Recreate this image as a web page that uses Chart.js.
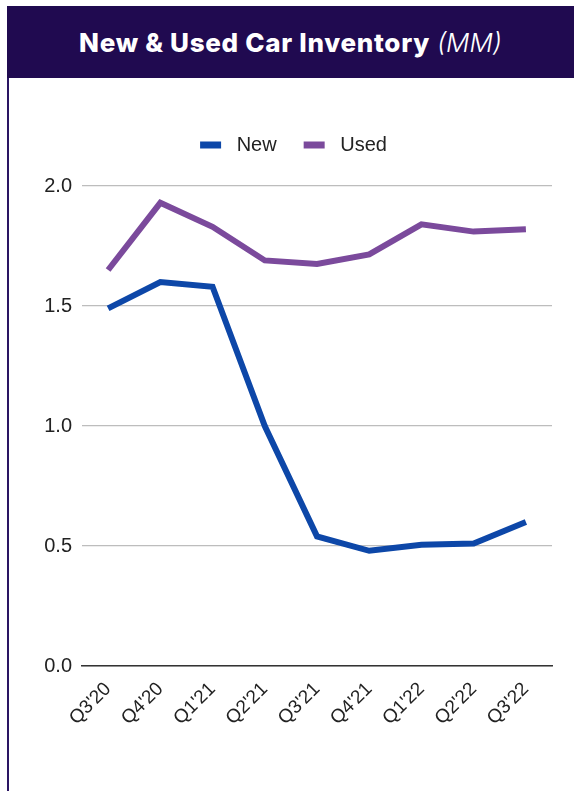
<!DOCTYPE html>
<html>
<head>
<meta charset="utf-8">
<script src="https://cdn.jsdelivr.net/npm/chart.js@4.4.1/dist/chart.umd.min.js"></script>
<style>
  html, body { margin: 0; padding: 0; background: #ffffff; }
  body { width: 574px; height: 791px; position: relative; overflow: hidden; }
  #header {
    position: absolute; left: 7px; top: 6px; width: 567px; height: 72px;
    background: #200a50; color: #ffffff;
    font-family: Inter, "Noto Sans", sans-serif; font-weight: 800; font-size: 26px;
    letter-spacing: 0.7px;
    display: flex; align-items: center; justify-content: center;
  }
  #header em { font-weight: 300; font-style: italic; margin-left: 7px; letter-spacing: 0; }
  #frame {
    position: absolute; left: 7px; top: 78px; width: 2px; height: 713px;
    background: #2a1563;
  }
  #wrap { position: absolute; left: 9px; top: 78px; width: 565px; height: 713px; }
</style>
</head>
<body>
<div id="header">New &amp; Used Car Inventory<em>(MM)</em></div>
<div id="frame"></div>
<div id="wrap"><canvas id="c"></canvas></div>
<script>
const quarters = ["Q3'20", "Q4'20", "Q1'21", "Q2'21", "Q3'21", "Q4'21", "Q1'22", "Q2'22", "Q3'22"];
const newInventory  = [1.49, 1.60, 1.58, 1.00, 0.54, 0.48, 0.505, 0.51, 0.60];
const usedInventory = [1.65, 1.93, 1.83, 1.69, 1.675, 1.715, 1.84, 1.81, 1.82];
const yTicks = [0, 0.5, 1.0, 1.5, 2.0];

const labelFont = '"Liberation Sans", Arial, sans-serif';

// Legend: fixed gap above the plot, row centred on the whole card.
const legendPlacement = {
  id: 'legendPlacement',
  afterInit(chart) {
    const lg = chart.legend;
    const fit = lg.fit.bind(lg);
    lg.fit = function () { fit(); this.height = 78; };
  },
  afterLayout(chart) {
    chart.legend.left += 26;
  }
};

new Chart(document.getElementById('c'), {
  type: 'line',
  data: {
    labels: quarters,
    datasets: [
      { label: 'New', data: newInventory, borderColor: '#0d47a8', backgroundColor: '#0d47a8',
        borderWidth: 6, pointRadius: 0, tension: 0, borderJoinStyle: 'miter' },
      { label: 'Used', data: usedInventory, borderColor: '#7b4a9c', backgroundColor: '#7b4a9c',
        borderWidth: 6, pointRadius: 0, tension: 0, borderJoinStyle: 'miter' }
    ]
  },
  options: {
    responsive: true,
    maintainAspectRatio: false,
    animation: false,
    layout: { padding: { top: 30, right: 22, bottom: 0, left: 0 } },
    plugins: {
      legend: {
        position: 'top',
        labels: {
          boxWidth: 21, boxHeight: 7, padding: 27,
          color: '#222222',
          font: { family: labelFont, size: 20 },
          generateLabels(chart) {
            const items = Chart.defaults.plugins.legend.labels.generateLabels(chart);
            items.forEach(it => { it.text = ' ' + it.text; it.lineWidth = 0; });
            return items;
          }
        }
      },
      tooltip: { enabled: false }
    },
    scales: {
      x: {
        offset: true,
        grid: { display: false, drawTicks: false },
        border: { display: true, color: '#333333', width: 1.5 },
        ticks: {
          maxRotation: 45, minRotation: 45, padding: 12, autoSkip: false,
          color: '#222222',
          font: { family: labelFont, size: 19 }
        },
        afterFit(s) { s.height = 125; }
      },
      y: {
        min: 0, max: 2,
        afterBuildTicks(s) { s.ticks = yTicks.map(v => ({ value: v })); },
        grid: { drawTicks: false, color: '#bdbdbd', lineWidth: 1.2 },
        border: { display: false },
        ticks: {
          padding: 10, color: '#222222',
          font: { family: labelFont, size: 20 },
          callback: v => Number(v).toFixed(1)
        },
        afterFit(s) { s.width = 73; }
      }
    }
  },
  plugins: [legendPlacement]
});
</script>
</body>
</html>
